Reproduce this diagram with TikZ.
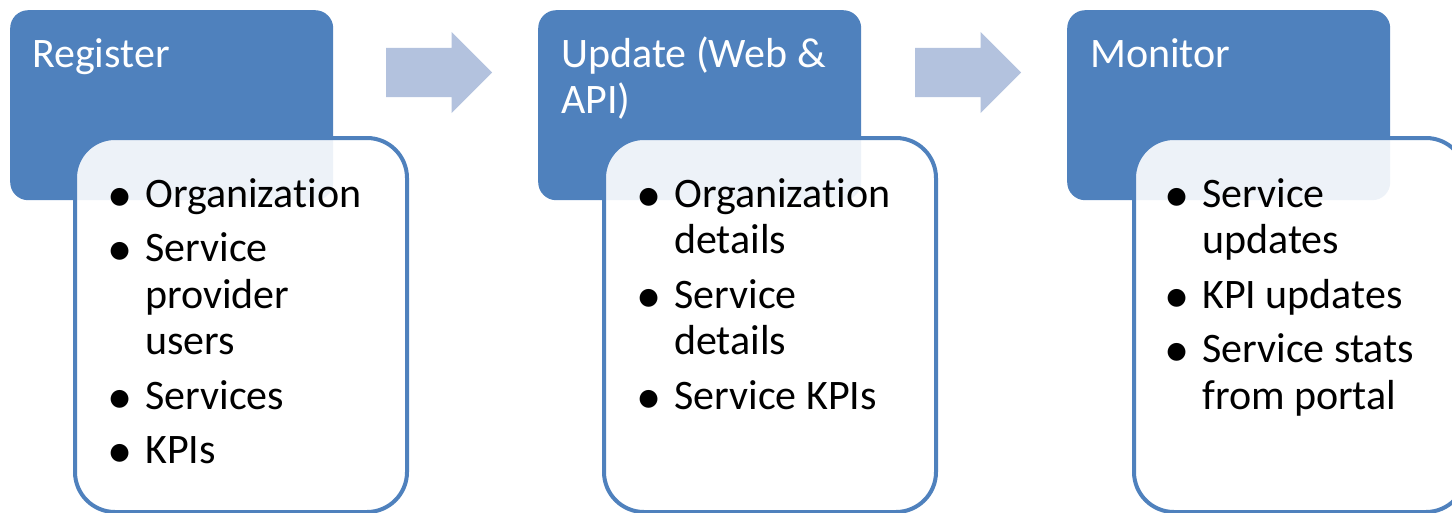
\documentclass[tikz,border=0pt]{standalone}
\usepackage{fontspec}
\setmainfont{Carlito}[Ligatures=NoCommon]
\usetikzlibrary{shapes.arrows}
\definecolor{stepblue}{HTML}{4F81BD}
\definecolor{arrowblue}{HTML}{B3C2DE}
\newcommand{\itembullet}{\makebox[33pt][l]{\hspace{-5pt}\raisebox{-4pt}{\scalebox{1.2}{\textbullet}}}}

\begin{document}
\begin{tikzpicture}[x=1pt,y=-1pt,
    headbox/.style={fill=stepblue, rounded corners=18pt, minimum width=323pt, minimum height=190pt, anchor=north west, inner sep=0pt},
    listbox/.style={draw=stepblue, line width=4pt, fill=white, fill opacity=0.9, rounded corners=40pt, minimum width=332pt, minimum height=374pt, anchor=north west, inner sep=0pt},
    headtext/.style={text=white, font=\fontsize{42}{46}\selectfont, align=left, anchor=base west, inner sep=0pt},
    listtext/.style={font=\fontsize{42}{46.5}\selectfont, anchor=base west, inner sep=0pt},
    steparrow/.style={single arrow, fill=arrowblue, minimum height=106pt, inner xsep=0pt, inner ysep=24.5pt, single arrow head extend=16pt, anchor=tail}]
  \useasboundingbox (0,0) rectangle (1452,512);
  \clip (0,0) rectangle (1452,512);

  % Register
  \node[headbox] (reg) at (10,10) {};
  \node[listbox] (regl) at (73,136) {};
  \node[headtext] (regt) at (32,67) {Register};
  \node[listtext] (regi) at (112,207) {\begin{tabular}[t]{@{}l@{}l@{}}
      \itembullet & Organization\\[8pt]
      \itembullet & Service\\
                  & provider\\
                  & users\\[8pt]
      \itembullet & Services\\[8pt]
      \itembullet & KPIs
    \end{tabular}};

  \node[steparrow] (arr1) at (386,72.5) {};

  % Update
  \node[headbox] (upd) at (538,10) {};
  \node[listbox] (updl) at (602,136) {};
  \node[headtext] (updt) at (561,113) {Update (Web \&\\API)};
  \node[listtext] (updi) at (641,207) {\begin{tabular}[t]{@{}l@{}l@{}}
      \itembullet & Organization\\
                  & details\\[8pt]
      \itembullet & Service\\
                  & details\\[8pt]
      \itembullet & Service KPIs
    \end{tabular}};

  \node[steparrow] (arr2) at (915,72.5) {};

  % Monitor
  \node[headbox] (mon) at (1067,10) {};
  \node[listbox] (monl) at (1132,136) {};
  \node[headtext] (mont) at (1090,67) {Monitor};
  \node[listtext] (moni) at (1169,207) {\begin{tabular}[t]{@{}l@{}l@{}}
      \itembullet & Service\\
                  & updates\\[8pt]
      \itembullet & KPI updates\\[8pt]
      \itembullet & Service stats\\
                  & from portal
    \end{tabular}};
\end{tikzpicture}
\end{document}
